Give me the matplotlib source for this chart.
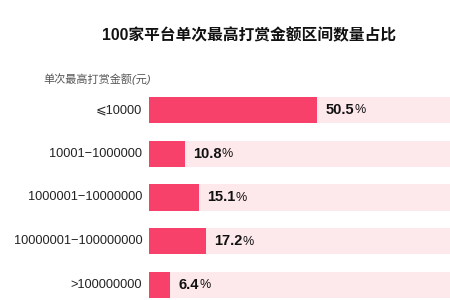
import matplotlib
matplotlib.use('Agg')
import matplotlib.pyplot as plt

plt.rcParams['font.family'] = ['Liberation Sans', 'Noto Sans CJK SC', 'DejaVu Sans']

title = '100家平台单次最高打赏金额区间数量占比'
axis_title = '单次最高打赏金额(元)'
categories = ['⩽10000', '10001−1000000', '1000001−10000000',
              '10000001−100000000', '>100000000']
values = [50.5, 10.8, 15.1, 17.2, 6.4]

bar_color = '#f7416a'
bg_color = '#fde8eb'

fig = plt.figure(figsize=(4.5, 3), dpi=100)
ax = fig.add_axes([149 / 450, 0, 1 - 149 / 450, 212 / 300])

ys = list(range(len(categories)))
ax.barh(ys, [100] * len(ys), height=0.6, color=bg_color)
ax.barh(ys, values, height=0.6, color=bar_color)
ax.set_xlim(0, 90.4)
ax.set_ylim(4.343, -0.503)
ax.axis('off')

# category labels
for y, c in zip(ys, categories):
    ax.text(-2, y, c, ha='right', va='center', fontsize=9.2, color='#222222')

# value labels: bold number + plain percent sign
fig.canvas.draw()
r = fig.canvas.get_renderer()
for y, v in zip(ys, values):
    t = ax.annotate('%.1f' % v, (v, y), xytext=(6, 0), textcoords='offset points',
                    ha='left', va='center', fontsize=10.5, fontweight='bold',
                    color='#111111')
    fig.canvas.draw()
    bb = t.get_window_extent(r)
    x1 = ax.transData.inverted().transform((bb.x1, 0))[0]
    ax.annotate('%', (x1, y), xytext=(0, -0.3), textcoords='offset points',
                ha='left', va='center', fontsize=9, color='#111111')

fig.text(249 / 450, 1 - 36 / 300, title, ha='center', va='center',
         fontsize=11.3, fontweight='bold', color='#111111')
fig.text(43 / 450, 1 - 79 / 300, axis_title, ha='left', va='center',
         fontsize=8, style='italic', color='#555555')

fig.savefig('out.png', dpi=100)
